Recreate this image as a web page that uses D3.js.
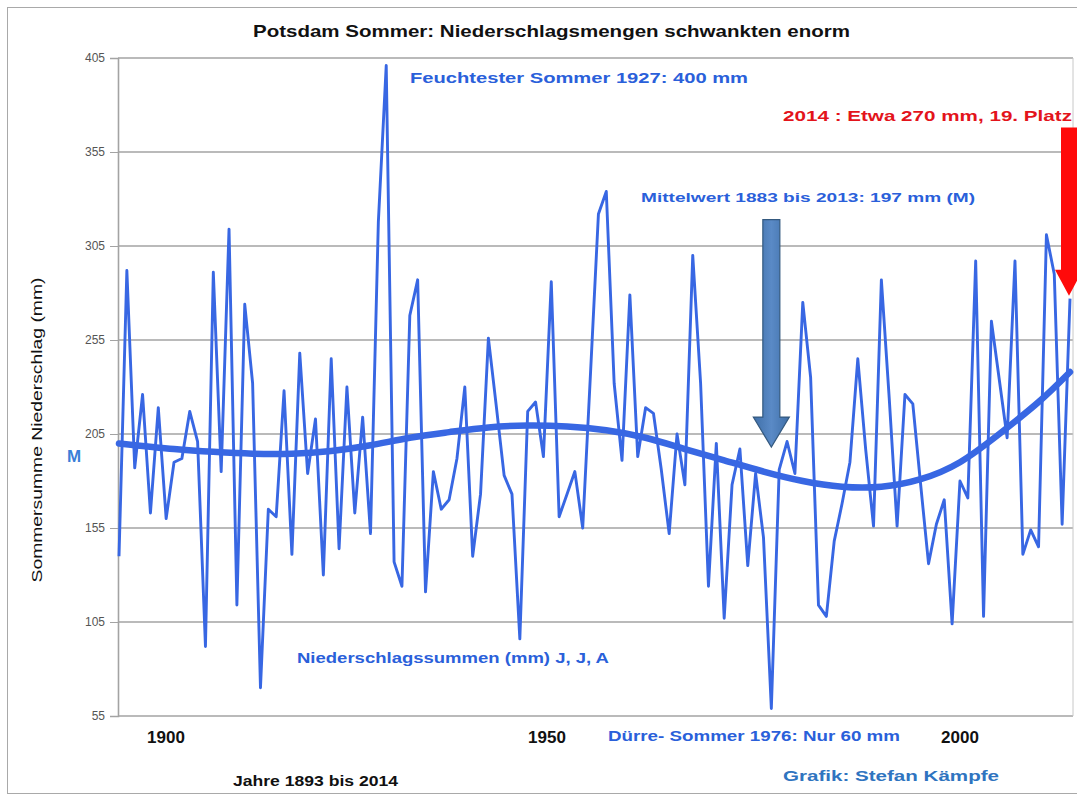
<!DOCTYPE html>
<html>
<head>
<meta charset="utf-8">
<script src="https://cdn.jsdelivr.net/npm/d3@7"></script>
<style>
  body { margin: 0; background: #fff; }
  svg { display: block; font-family: "Liberation Sans", Arial, sans-serif; }
</style>
</head>
<body>
<svg id="canvas" width="1077" height="796"></svg>
<script>

// Sommerniederschlag Potsdam (J, J, A), mm, 1893 - 2014
var startYear = 1893;
var rain = [
	140, 292, 187, 226, 163, 219, 160, 190, 192, 217,
	201,  92, 291, 185, 314, 114, 274, 232,  70, 165,
	161, 228, 141, 248, 184, 213, 130, 245, 144, 230,
	163, 214, 152, 318, 401, 137, 124, 268, 287, 121,
	185, 165, 170, 192, 230, 140, 173, 256, 220, 183,
	173,  96, 217, 222, 193, 286, 161, 173, 185, 155,
	238, 322, 334, 232, 191, 279, 193, 219, 216, 186,
	152, 205, 178, 300, 232, 124, 200, 107, 178, 197,
	135, 184, 150,  59, 186, 201, 184, 275, 235, 114,
	108, 148, 168, 190, 245, 197, 156, 287, 224, 156,
	226, 221, 178, 136, 157, 170, 104, 180, 171, 297,
	108, 265, 234, 203, 297, 141, 154, 145, 311, 290,
	157, 277
];

// Trendkurve
var trendYears  = [1893, 1900, 1905, 1910, 1915, 1920, 1925, 1930, 1935, 1940, 1945, 1950, 1955, 1960, 1965, 1970, 1975, 1980, 1985, 1990, 1995, 2000, 2005, 2010, 2014];
var trendValues = [ 200,  197, 195.5, 194.5, 194.5, 196, 199,  203,  206, 208.5, 209.5, 209, 207,  203,  197,  191,  185,  180,  177,  177,  181,  190,  205,  222,  238];

var yTicks = [55, 105, 155, 205, 255, 305, 355, 405];
var xLabels = [1900, 1950, 2000];

var mean = 197;
var wettest = {year: 1927, value: 401};
var last = {year: 2014, value: 277};

var svg = d3.select("#canvas");
var width = 1077, height = 796;

var plot = {left: 118, right: 1073, top: 58, bottom: 716};

var x = d3.scaleLinear().domain([1893, 2014]).range([119, 1070]);
var y = d3.scaleLinear().domain([55, 405]).range([plot.bottom, plot.top]);

var blue = "#2a60da";
var lineBlue = "#3867e3";

// Rahmen
svg.append("rect")
	.attr("x", 7.5).attr("y", 7.5)
	.attr("width", 1085).attr("height", 786)
	.attr("fill", "none")
	.attr("stroke", "#a9a9a9");

// Gitter
svg.append("g")
	.selectAll("line")
	.data(yTicks)
	.enter().append("line")
	.attr("x1", plot.left).attr("x2", plot.right)
	.attr("y1", function(d) { return y(d); })
	.attr("y2", function(d) { return y(d); })
	.attr("stroke", "#a3a3a3")
	.attr("stroke-width", 1.6);

svg.append("line")
	.attr("x1", plot.right).attr("x2", plot.right)
	.attr("y1", plot.top).attr("y2", plot.bottom)
	.attr("stroke", "#c8c8c8");

// y-Achse
var yAxis = d3.axisLeft(y).tickValues(yTicks).tickSize(8).tickPadding(5);
var yg = svg.append("g")
	.attr("transform", "translate(" + plot.left + ",0)")
	.call(yAxis);
yg.select(".domain").attr("stroke", "#a3a3a3").attr("stroke-width", 1.6);
yg.selectAll(".tick line").attr("stroke", "#a3a3a3");
yg.selectAll(".tick text")
	.attr("fill", "#555")
	.style("font-size", "12px")
	.style("font-family", "'Liberation Sans Narrow', 'Arial Narrow', 'Liberation Sans', sans-serif");

// x-Beschriftung (frei gesetzt wie im Original)
var labelNudge = {1900: -8, 1950: -20, 2000: 0};
svg.append("g")
	.selectAll("text")
	.data(xLabels)
	.enter().append("text")
	.attr("x", function(d) { return x(d) + labelNudge[d]; })
	.attr("y", 743)
	.attr("text-anchor", "middle")
	.attr("font-size", 17)
	.attr("font-weight", "bold")
	.attr("fill", "#111")
	.text(function(d) { return d; });

// Messwerte
var line = d3.line()
	.x(function(d, i) { return x(startYear + i); })
	.y(function(d) { return y(d); });

svg.append("path")
	.datum(rain)
	.attr("d", line)
	.attr("fill", "none")
	.attr("stroke", lineBlue)
	.attr("stroke-width", 2.9)
	.attr("stroke-linejoin", "round");

// Trend
var trendLine = d3.line()
	.x(function(d, i) { return x(trendYears[i]); })
	.y(function(d) { return y(d); })
	.curve(d3.curveNatural);

svg.append("path")
	.datum(trendValues)
	.attr("d", trendLine)
	.attr("fill", "none")
	.attr("stroke", lineBlue)
	.attr("stroke-width", 6.5)
	.attr("stroke-linecap", "round");

// Pfeile
function arrow(cx, yTop, yTip, shaft, head, headLen) {
	var s = shaft / 2, h = head / 2;
	return "M" + (cx - s) + "," + yTop +
		"L" + (cx + s) + "," + yTop +
		"L" + (cx + s) + "," + (yTip - headLen) +
		"L" + (cx + h) + "," + (yTip - headLen) +
		"L" + cx + "," + yTip +
		"L" + (cx - h) + "," + (yTip - headLen) +
		"L" + (cx - s) + "," + (yTip - headLen) + "Z";
}

var grad = svg.append("defs").append("linearGradient")
	.attr("id", "steel").attr("x1", "0").attr("x2", "1");
grad.append("stop").attr("offset", "0").attr("stop-color", "#3f6fa8");
grad.append("stop").attr("offset", "0.5").attr("stop-color", "#5a8ac6");
grad.append("stop").attr("offset", "1").attr("stop-color", "#3f6fa8");

svg.append("path")
	.attr("d", arrow(x(1976), y(319), y(mean) - 2, 17, 36, 30))
	.attr("fill", "url(#steel)")
	.attr("stroke", "#34597f")
	.attr("stroke-width", 1.2);

svg.append("path")
	.attr("d", arrow(x(last.year) - 1, y(368), y(last.value) - 3, 16, 28, 26))
	.attr("fill", "#ff0a0a");

// Texte
function label(txt, xPos, yPos, size, color, len, anchor) {
	var t = svg.append("text")
		.attr("x", xPos).attr("y", yPos)
		.attr("font-size", size)
		.attr("font-weight", "bold")
		.attr("fill", color)
		.attr("text-anchor", anchor || "start")
		.text(txt);
	if (len) t.attr("textLength", len).attr("lengthAdjust", "spacingAndGlyphs");
	return t;
}

label("Potsdam Sommer: Niederschlagsmengen schwankten enorm", 253, 37, 17, "#111", 597);
label("Feuchtester Sommer " + wettest.year + ": 400 mm", 410, 83, 15, blue, 338);
label("2014 : Etwa 270 mm, 19. Platz", 783, 121, 15, "#e3141b", 289);
label("Mittelwert 1883 bis 2013: " + mean + " mm (M)", 641, 202, 13, blue, 334);
label("Niederschlagssummen (mm) J, J, A", 297, 663, 15, blue, 312);
label("Dürre- Sommer 1976:  Nur 60 mm", 608, 741, 14, blue, 292);
label("Jahre 1893 bis 2014", 233, 786, 14, "#111", 165);
label("Grafik: Stefan Kämpfe", 783, 781, 15, "#2f74c0", 216);
label("M", 67, 462, 17, "#3a7fd8");

svg.append("text")
	.attr("transform", "translate(42,430) rotate(-90)")
	.attr("text-anchor", "middle")
	.attr("font-size", 15)
	.attr("fill", "#111")
	.attr("textLength", 305)
	.attr("lengthAdjust", "spacingAndGlyphs")
	.text("Sommersumme  Niederschlag (mm)");

</script>
</body>
</html>
